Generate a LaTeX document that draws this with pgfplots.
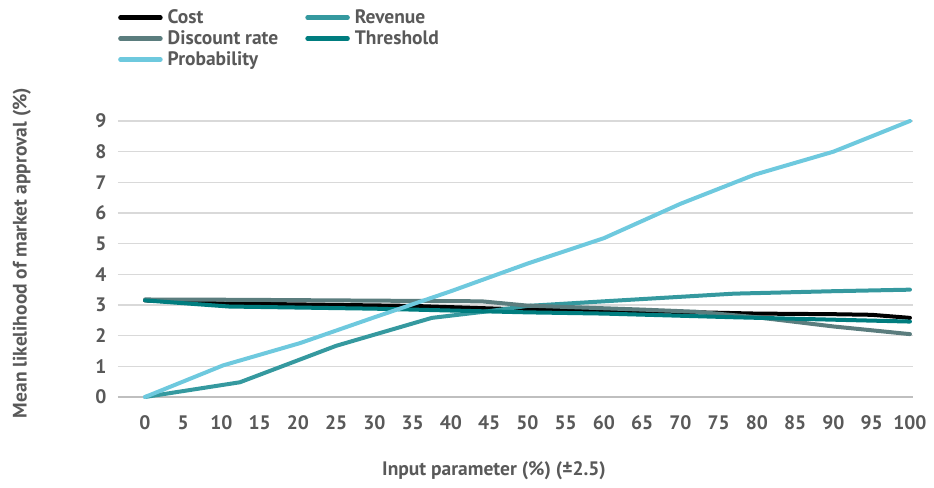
\documentclass[border=0pt]{standalone}
\usepackage{fontspec}
\setmainfont{PT Sans}
\usepackage{pgfplots}
\pgfplotsset{compat=1.18}

\definecolor{txtgray}{HTML}{595959}
\definecolor{gridgray}{HTML}{D9D9D9}
\definecolor{axgray}{HTML}{BFBFBF}
\definecolor{cRevenue}{HTML}{35999F}
\definecolor{cDiscount}{HTML}{5B7D7E}
\definecolor{cThreshold}{HTML}{007D7F}
\definecolor{cProb}{HTML}{6EC9DE}

\newcommand{\lbl}{\fontsize{19.5bp}{22bp}\selectfont\bfseries}

\begin{document}
\begin{tikzpicture}
\useasboundingbox (-118bp,-91bp) rectangle (816bp,397bp);
\begin{axis}[
  at={(0,0)}, anchor=south west,
  scale only axis, width=795bp, height=276bp,
  xmin=-3.53, xmax=100.4, ymin=0, ymax=9,
  xtick={0,5,...,100}, ytick={0,1,...,9},
  axis x line*=bottom, axis y line*=left,
  y axis line style={draw=none},
  x axis line style={draw=axgray, line width=1.3bp},
  major tick length=0pt,
  ymajorgrids, grid style={draw=gridgray, line width=1.3bp},
  clip=false,
  /pgf/number format/assume math mode=true,
  tick label style={font=\lbl, text=txtgray},
  yticklabel style={xshift=-8bp},
  xticklabel style={yshift=-15bp},
  xlabel={Input parameter (\%) (±2.5)},
  ylabel={Mean likelihood of market approval (\%)},
  label style={font=\lbl, text=txtgray},
  xlabel style={at={(axis description cs:0.473,-0.267)}, anchor=center},
  ylabel style={at={(axis description cs:-0.121,0.522)}, anchor=center, rotate=0},
  every axis plot/.append style={line width=4bp, line cap=round, line join=round},
  legend columns=2,
  legend cell align=left,
  legend image code/.code={\draw[#1, line width=4.5bp] (0bp,0bp) -- (40bp,0bp);},
  legend style={at={(axis description cs:0,1.41)}, anchor=north west,
    draw=none, fill=none, inner sep=0pt, font=\lbl, text=txtgray,
    row sep=1.5bp,
    /tikz/every odd column/.append style={column sep=3bp},
    /tikz/every even column/.append style={column sep=25bp}},
]
\addplot[black] coordinates {
 (0,3.15) (10,3.05) (20,3.02) (35,2.97) (50,2.85) (65,2.8) (80,2.72) (90,2.7) (95,2.68) (100,2.58)};
\addlegendentry{Cost}
\addplot[cRevenue] coordinates {
 (0,0) (12.4,0.48) (25,1.67) (37.5,2.58) (45,2.8) (50,2.97) (60,3.12) (77,3.37) (90,3.45) (100,3.5)};
\addlegendentry{Revenue}
\addplot[cDiscount] coordinates {
 (0,3.18) (12,3.17) (44,3.12) (50,2.98) (65,2.85) (72,2.78) (80,2.6) (90,2.3) (100,2.05)};
\addlegendentry{Discount rate}
\addplot[cThreshold] coordinates {
 (0,3.15) (11,2.95) (30,2.88) (50,2.76) (60,2.72) (77,2.6) (100,2.46)};
\addlegendentry{Threshold}
\addplot[cProb] coordinates {
 (0,0) (10.2,1.03) (20.3,1.76) (30,2.6) (40,3.45) (50,4.35) (60,5.18) (70,6.3) (79.7,7.25) (90,8.0) (100,9.0)};
\addlegendentry{Probability}
\end{axis}
\end{tikzpicture}
\end{document}
